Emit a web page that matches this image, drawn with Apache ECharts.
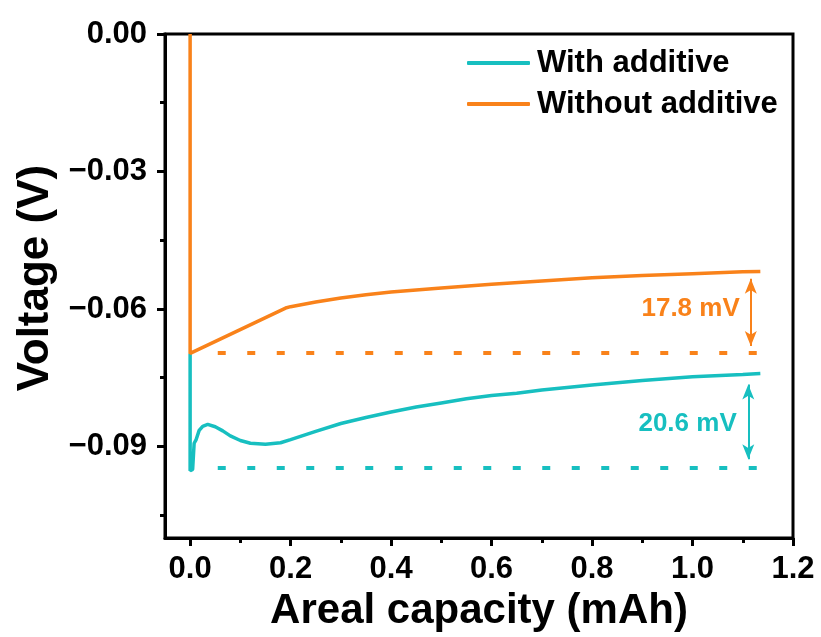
<!DOCTYPE html>
<html>
<head>
<meta charset="utf-8">
<script src="https://cdn.jsdelivr.net/npm/echarts@6/dist/echarts.min.js"></script>
<style>
html,body{margin:0;padding:0;background:#ffffff;}
#chart{width:821px;height:637px;}
</style>
</head>
<body>
<div id="chart"></div>
<script>
// ---- data ----
const seriesNames = ['With additive', 'Without additive'];
const seriesColors = ['#17bfc0', '#f9821a'];

const withAdditiveX = [0, 0, 0.005, 0.008, 0.012, 0.018, 0.025, 0.035, 0.05, 0.065, 0.08, 0.1, 0.12, 0.15, 0.18, 0.2, 0.25, 0.3, 0.35, 0.4, 0.45, 0.5, 0.55, 0.6, 0.65, 0.7, 0.8, 0.9, 1.0, 1.1, 1.135];
const withAdditiveY = [-0.0697, -0.0953, -0.0950, -0.0893, -0.0885, -0.0865, -0.0856, -0.0852, -0.0857, -0.0866, -0.0877, -0.0887, -0.0893, -0.0895, -0.0892, -0.0885, -0.0867, -0.0850, -0.0837, -0.0825, -0.0814, -0.0805, -0.0796, -0.0789, -0.0784, -0.0777, -0.0766, -0.0756, -0.0748, -0.0743, -0.0741];

const withoutAdditiveX = [0, 0, 0.19, 0.2, 0.25, 0.3, 0.35, 0.4, 0.5, 0.6, 0.7, 0.8, 0.9, 1.0, 1.1, 1.135];
const withoutAdditiveY = [0, -0.0697, -0.0598, -0.0595, -0.0585, -0.0576, -0.0569, -0.0563, -0.0554, -0.0546, -0.0539, -0.0532, -0.0527, -0.0523, -0.0519, -0.0518];

// dashed reference levels (x start, x end, level)
const baselineX = [0.055, 1.135];
const withAdditiveBaseline = -0.0947;
const withoutAdditiveBaseline = -0.0696;

// annotations
const gapLabels = ['20.6 mV', '17.8 mV'];
const gapLabelPos = [[1.089, -0.0850], [1.095, -0.0599]];
const gapArrowX = [1.111, 1.116];
const gapArrowY = [[-0.0765, -0.0928], [-0.0534, -0.0681]];

// axes
const xMin = -0.05, xMax = 1.2;
const yMin = -0.11, yMax = 0;
const xMajorTicks = [0, 0.2, 0.4, 0.6, 0.8, 1.0, 1.2];
const xMinorTicks = [0.1, 0.3, 0.5, 0.7, 0.9, 1.1];
const yMajorTicks = [0, -0.03, -0.06, -0.09];
const yMinorTicks = [-0.015, -0.045, -0.075, -0.105];

// ---- chart ----
const FONT = 'Arial, "Liberation Sans", sans-serif';
const zip = (xs, ys) => xs.map((x, i) => [x, ys[i]]);

const chart = echarts.init(document.getElementById('chart'), null, {renderer: 'canvas'});

function baseAxisCommon() {
  return {
    type: 'value',
    splitLine: {show: false},
    axisLine: {show: true, onZero: false, lineStyle: {color: '#000', width: 3}}
  };
}

const option = {
  backgroundColor: '#ffffff',
  animation: false,
  grid: {left: 165, right: 28, top: 34, bottom: 98, containLabel: false,
         show: true, borderColor: '#000', borderWidth: 3},
  legend: {
    data: seriesNames,
    orient: 'vertical',
    left: 467,
    top: 47,
    padding: 0,
    icon: 'roundRect',
    itemWidth: 63,
    itemHeight: 4,
    itemGap: 9,
    textStyle: {fontFamily: FONT, fontWeight: 'bold', fontSize: 31, color: '#000', lineHeight: 32, padding: [0, 0, 0, 2]}
  },
  xAxis: [
    Object.assign(baseAxisCommon(), {
      min: xMin, max: xMax, position: 'bottom',
      name: 'Areal capacity (mAh)', nameLocation: 'middle', nameGap: 51,
      nameTextStyle: {fontFamily: FONT, fontWeight: 'bold', fontSize: 42, color: '#000'},
      axisTick: {show: true, inside: false, length: 8, customValues: xMajorTicks, lineStyle: {color: '#000', width: 3}},
      axisLabel: {show: true, customValues: xMajorTicks, margin: 16,
        fontFamily: FONT, fontWeight: 'bold', fontSize: 31, color: '#000',
        formatter: v => v.toFixed(1)}
    }),
    {
      type: 'value', min: xMin, max: xMax, position: 'bottom', offset: 0,
      splitLine: {show: false},
      axisLine: {show: false, onZero: false},
      axisTick: {show: true, inside: false, length: 5, customValues: xMinorTicks, lineStyle: {color: '#000', width: 3}},
      axisLabel: {show: false}
    }
  ],
  yAxis: [
    Object.assign(baseAxisCommon(), {
      min: yMin, max: yMax, position: 'left',
      name: 'Voltage (V)', nameLocation: 'middle', nameGap: 107,
      nameTextStyle: {fontFamily: FONT, fontWeight: 'bold', fontSize: 44, color: '#000', padding: [0, 0, 0, 16]},
      axisTick: {show: true, inside: false, length: 8, customValues: yMajorTicks, lineStyle: {color: '#000', width: 3}},
      axisLabel: {show: true, customValues: yMajorTicks, margin: 18,
        fontFamily: FONT, fontWeight: 'bold', fontSize: 31, color: '#000',
        formatter: v => (Math.abs(v) < 1e-9 ? '0.00' : '\u2212' + Math.abs(v).toFixed(2))}
    }),
    {
      type: 'value', min: yMin, max: yMax, position: 'left', offset: 0,
      splitLine: {show: false},
      axisLine: {show: false, onZero: false},
      axisTick: {show: true, inside: false, length: 5, customValues: yMinorTicks, lineStyle: {color: '#000', width: 3}},
      axisLabel: {show: false}
    }
  ],
  series: [
    {
      name: seriesNames[0], type: 'line', xAxisIndex: 0, yAxisIndex: 0,
      data: zip(withAdditiveX, withAdditiveY),
      showSymbol: false, symbol: 'none', smooth: false,
      lineStyle: {color: seriesColors[0], width: 3.5},
      itemStyle: {color: seriesColors[0]},
      z: 3,
      markLine: {
        silent: true, symbol: ['arrow', 'arrow'], symbolSize: [9, 15],
        label: {show: false},
        lineStyle: {color: seriesColors[0], width: 2, type: 'solid'},
        data: [[{coord: [gapArrowX[0], gapArrowY[0][0]]}, {coord: [gapArrowX[0], gapArrowY[0][1]]}]]
      },
      markPoint: {
        silent: true, symbol: 'circle', symbolSize: 1,
        itemStyle: {color: 'rgba(0,0,0,0)'},
        label: {show: true, position: 'left', distance: 0, formatter: gapLabels[0],
          fontFamily: FONT, fontWeight: 'bold', fontSize: 26, color: seriesColors[0]},
        data: [{coord: gapLabelPos[0]}]
      }
    },
    {
      name: seriesNames[1], type: 'line', xAxisIndex: 0, yAxisIndex: 0,
      data: zip(withoutAdditiveX, withoutAdditiveY),
      showSymbol: false, symbol: 'none', smooth: false,
      lineStyle: {color: seriesColors[1], width: 3.5},
      itemStyle: {color: seriesColors[1]},
      z: 4,
      markLine: {
        silent: true, symbol: ['arrow', 'arrow'], symbolSize: [9, 15],
        label: {show: false},
        lineStyle: {color: seriesColors[1], width: 2, type: 'solid'},
        data: [[{coord: [gapArrowX[1], gapArrowY[1][0]]}, {coord: [gapArrowX[1], gapArrowY[1][1]]}]]
      },
      markPoint: {
        silent: true, symbol: 'circle', symbolSize: 1,
        itemStyle: {color: 'rgba(0,0,0,0)'},
        label: {show: true, position: 'left', distance: 0, formatter: gapLabels[1],
          fontFamily: FONT, fontWeight: 'bold', fontSize: 26, color: seriesColors[1]},
        data: [{coord: gapLabelPos[1]}]
      }
    },
    {
      name: 'With additive level', type: 'line', xAxisIndex: 0, yAxisIndex: 0,
      data: baselineX.map(x => [x, withAdditiveBaseline]),
      showSymbol: false, symbol: 'none',
      lineStyle: {color: seriesColors[0], width: 4, type: [8, 21.5], cap: 'butt'},
      z: 2
    },
    {
      name: 'Without additive level', type: 'line', xAxisIndex: 0, yAxisIndex: 0,
      data: baselineX.map(x => [x, withoutAdditiveBaseline]),
      showSymbol: false, symbol: 'none',
      lineStyle: {color: seriesColors[1], width: 4, type: [8, 21.5], cap: 'butt'},
      z: 2
    }
  ]
};

chart.setOption(option);
</script>
</body>
</html>
